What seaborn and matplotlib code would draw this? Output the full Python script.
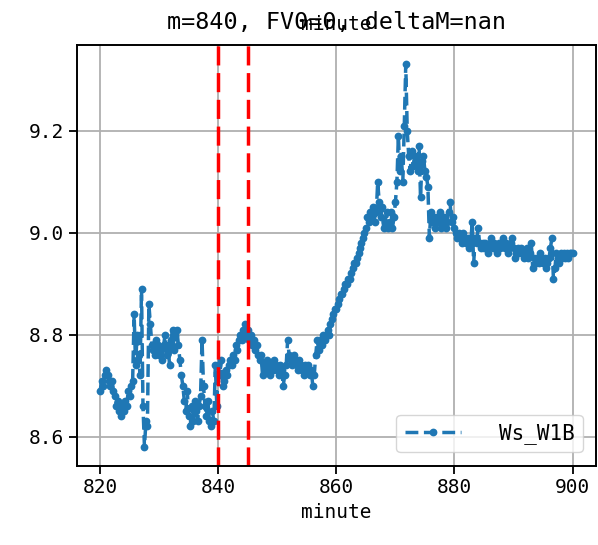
import numpy as np
import pandas as pd
import seaborn as sns
import matplotlib
matplotlib.use("Agg")
import matplotlib.pyplot as plt
from matplotlib.ticker import MultipleLocator

# readings every quarter minute, 820 .. 900
minute_start = 820
minute_step = 0.25
ws_w1b = [
    8.69, 8.71, 8.70, 8.72,  8.73, 8.72, 8.71, 8.70,  8.71, 8.69, 8.68, 8.66,
    8.67, 8.65, 8.64, 8.66,  8.65, 8.67, 8.66, 8.69,  8.68, 8.70, 8.71, 8.84,
    8.74, 8.80, 8.76, 8.72,  8.89, 8.66, 8.58, 8.63,  8.62, 8.86, 8.82, 8.78,
    8.77, 8.76, 8.79, 8.78,  8.76, 8.77, 8.75, 8.78,  8.80, 8.76, 8.78, 8.74,
    8.79, 8.81, 8.77, 8.80,  8.81, 8.78, 8.75, 8.72,  8.70, 8.67, 8.65, 8.69,
    8.64, 8.62, 8.66, 8.63,  8.67, 8.65, 8.63, 8.66,  8.68, 8.79, 8.70, 8.66,
    8.64, 8.67, 8.63, 8.62,  8.65, 8.63, 8.74, 8.66,  8.74, 8.72, 8.75, 8.70,
    8.71, 8.73, 8.72, 8.74,  8.75, 8.74, 8.76, 8.75,  8.78, 8.77, 8.79, 8.80,
    8.79, 8.81, 8.82, 8.80,  8.81, 8.79, 8.80, 8.78,  8.79, 8.77, 8.78, 8.76,
    8.75, 8.76, 8.72, 8.74,  8.73, 8.75, 8.74, 8.72,  8.74, 8.73, 8.75, 8.74,
    8.73, 8.72, 8.74, 8.73,  8.70, 8.72, 8.74, 8.79,  8.76, 8.75, 8.74, 8.76,
    8.75, 8.74, 8.73, 8.75,  8.74, 8.73, 8.72, 8.74,  8.73, 8.74, 8.72, 8.73,
    8.70, 8.72, 8.76, 8.79,  8.77, 8.79, 8.78, 8.80,  8.79, 8.80, 8.81, 8.80,
    8.82, 8.83, 8.84, 8.85,  8.85, 8.86, 8.87, 8.88,  8.88, 8.89, 8.90, 8.90,
    8.91, 8.91, 8.92, 8.93,  8.94, 8.94, 8.95, 8.96,  8.97, 8.98, 8.99, 9.00,
    9.01, 9.03, 9.02, 9.04,  9.03, 9.05, 9.02, 9.04,  9.10, 9.06, 9.03, 9.05,
    9.01, 9.02, 9.04, 9.01,  9.02, 9.04, 9.01, 9.03,  9.06, 9.10, 9.19, 9.12,
    9.15, 9.10, 9.21, 9.33,  9.20, 9.15, 9.12, 9.16,  9.13, 9.15, 9.14, 9.12,
    9.17, 9.07, 9.14, 9.15,  9.12, 9.11, 9.09, 8.99,  9.04, 9.02, 9.03, 9.01,
    9.03, 9.02, 9.04, 9.01,  9.02, 9.03, 9.01, 9.02,  9.04, 9.06, 9.02, 9.03,
    9.01, 9.00, 8.99, 9.00,  8.99, 8.98, 9.00, 8.99,  8.98, 8.99, 8.97, 8.98,
    9.02, 8.94, 8.99, 8.98,  9.01, 8.98, 8.97, 8.98,  8.97, 8.98, 8.97, 8.96,
    8.98, 8.99, 8.97, 8.98,  8.97, 8.96, 8.98, 8.97,  8.98, 8.99, 8.97, 8.98,
    8.96, 8.97, 8.98, 8.99,  8.97, 8.95, 8.96, 8.97,  8.96, 8.97, 8.96, 8.95,
    8.96, 8.97, 8.95, 8.96,  8.98, 8.93, 8.95, 8.94,  8.95, 8.94, 8.96, 8.95,
    8.94, 8.95, 8.93, 8.94,  8.95, 8.97, 8.99, 8.91,  8.93, 8.96, 8.95, 8.94,
    8.96, 8.95, 8.96, 8.95,  8.96, 8.95, 8.96, 8.96,
    8.96,
]
event_minutes = [840, 845]
title_text = "m=840, FV0=0, deltaM=nan"

minutes = minute_start + minute_step * np.arange(len(ws_w1b))
df = pd.DataFrame({"minute": minutes, "Ws_W1B": ws_w1b})

sns.set_style("ticks", rc={
    "axes.edgecolor": "black", "text.color": "black",
    "axes.labelcolor": "black", "xtick.color": "black", "ytick.color": "black",
})
plt.rcParams["font.family"] = ["DejaVu Sans Mono", "DejaVu Sans"]
plt.rcParams["font.size"] = 14
plt.rcParams["axes.linewidth"] = 1.4

fig, ax = plt.subplots(figsize=(5.98, 5.45), dpi=100)
fig.subplots_adjust(left=0.128, right=0.997, top=0.917, bottom=0.145)

sns.lineplot(data=df, x="minute", y="Ws_W1B", ax=ax, label="Ws_W1B",
             color="#1f77b4", linestyle="--", dashes=(5.5, 2.4), linewidth=2.5,
             marker="o", markersize=5.6, markeredgewidth=0)

for m in event_minutes:
    ax.axvline(m, color="red", linestyle="--", dashes=(5.5, 2.2), linewidth=2.5)

ax.yaxis.set_major_locator(MultipleLocator(0.2))
ax.grid(True, color="#b0b0b0", linewidth=1.3)
ax.tick_params(labelsize=14, length=5.5, width=1.3)
ax.set_xlabel("minute", fontsize=14)
ax.set_ylabel("")
ax.set_title(title_text, fontsize=16.8, pad=11.5)
# second "minute" label sits on the title line, as in the original
ax.text(0.5, 1.036, "minute", transform=ax.transAxes, ha="center",
        va="baseline", fontsize=14)

ax.legend(loc="lower right", handlelength=2.7, handletextpad=1.8,
          borderaxespad=0.65, fontsize=15)

fig.savefig("out.png", dpi=100)
